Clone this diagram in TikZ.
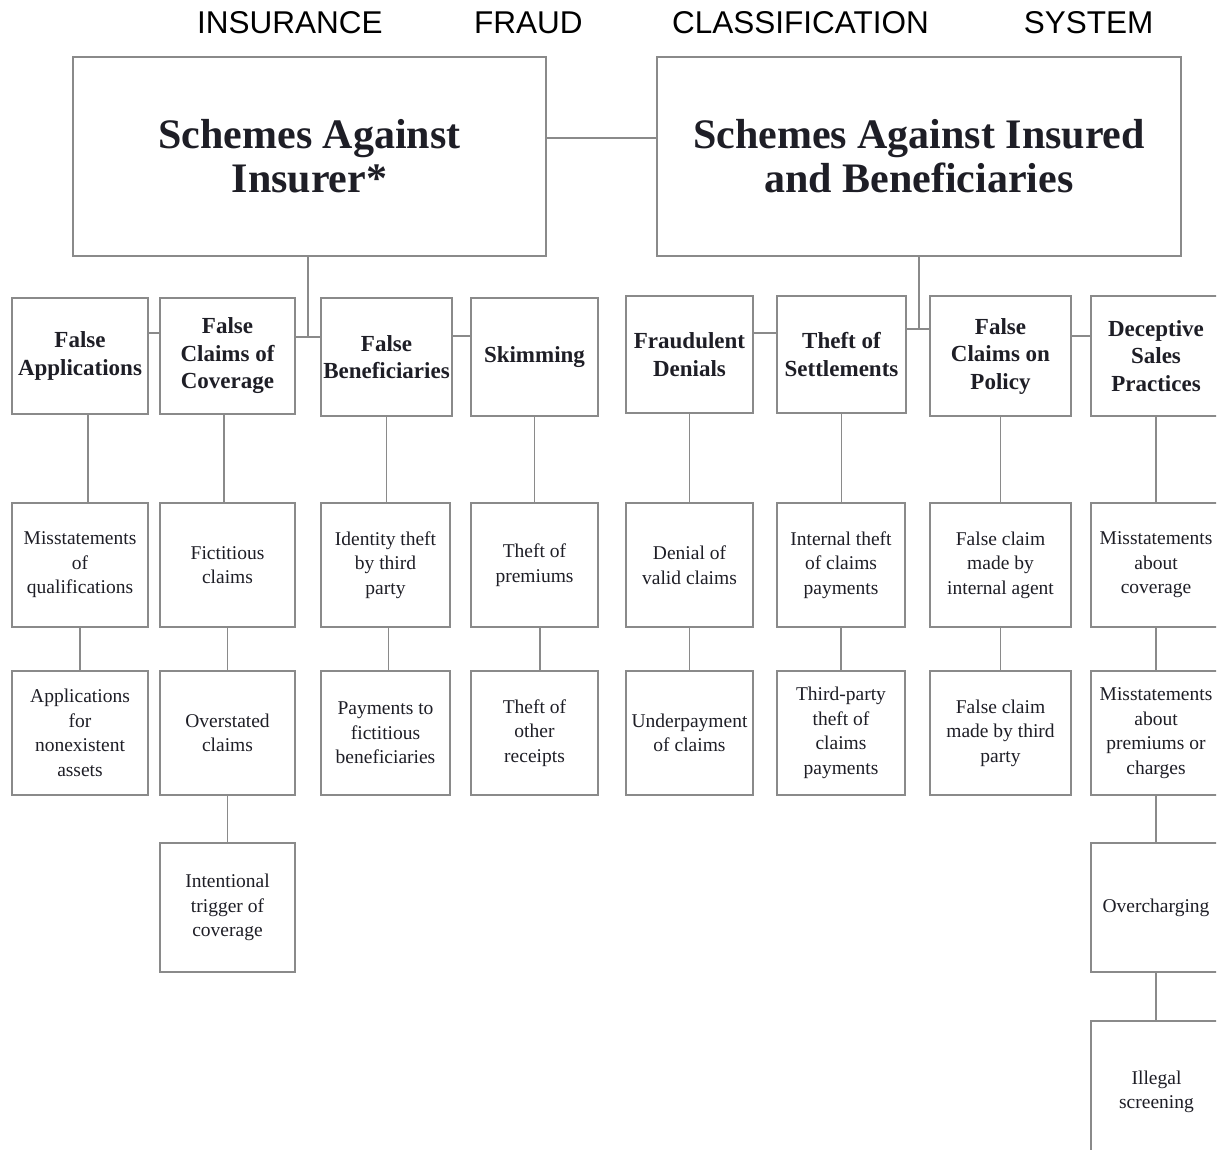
\documentclass[tikz,border=0pt]{standalone}
\usepackage{fontspec}
\setmainfont{Liberation Serif}
\newfontfamily\titlefont{Liberation Sans}
\definecolor{linegray}{HTML}{8A8A8A}
\definecolor{ink}{HTML}{1E1E26}
\tikzset{
  conn/.style={draw=linegray, line width=1.5pt},
  basebox/.style={draw=linegray, line width=1.5pt, fill=white, inner sep=0pt, align=center, text=ink},
  topbox/.style={basebox, font=\bfseries\fontsize{42}{44}\selectfont},
  catbox/.style={basebox, font=\bfseries\fontsize{23}{27.5}\selectfont},
  itembox/.style={basebox, font=\fontsize{19.5}{24.5}\selectfont},
  sz/.style 2 args={minimum width=#1pt, minimum height=#2pt},
  titletext/.style={font=\titlefont\fontsize{31.5}{36}\selectfont, anchor=base west, inner sep=0pt, text=black},
}
\begin{document}
\begin{tikzpicture}[x=1pt, y=-1pt]
\useasboundingbox (0,0) rectangle (1228,1149);
\begin{scope}
\clip (0,0) rectangle (1216,1149);

% title
\node[titletext] (title) at (197,33) {INSURANCE\hspace{91.5pt}FRAUD\hspace{89.5pt}CLASSIFICATION\hspace{95pt}SYSTEM};

% top level
\node[topbox, sz={473}{199}] (ins) at (309.5,156.5) {Schemes Against\\Insurer*};
\node[topbox, sz={524}{199}] (isb) at (919,156.5) {Schemes Against Insured\\and Beneficiaries};

% level 2
\node[catbox, sz={136}{116}] (fa)  at (80,356)     {False\\Applications};
\node[catbox, sz={135}{116}] (fcc) at (227.5,356)  {False\\Claims of\\Coverage};
\node[catbox, sz={131}{118}] (fb)  at (386.5,357)  {False\\Beneficiaries};
\node[catbox, sz={127}{118}] (sk)  at (534.5,357)  {Skimming};
\node[catbox, sz={127}{117}] (fd)  at (689.5,354.5) {Fraudulent\\Denials};
\node[catbox, sz={129}{117}] (ts)  at (841.5,354.5) {Theft of\\Settlements};
\node[catbox, sz={141}{120}] (fcp) at (1000.5,356) {False\\Claims on\\Policy};
\node[catbox, sz={130}{120}] (dsp) at (1156,356)   {Deceptive\\Sales\\Practices};

% level 3
\node[itembox, sz={136}{124}] (ms)  at (80,565)     {Misstatements\\of\\qualifications};
\node[itembox, sz={135}{124}] (fic) at (227.5,565)  {Fictitious\\claims};
\node[itembox, sz={129}{124}] (idt) at (385.5,565)  {Identity theft\\by third\\party};
\node[itembox, sz={127}{124}] (thp) at (534.5,565)  {Theft of\\premiums};
\node[itembox, sz={127}{124}] (dvc) at (689.5,565)  {Denial of\\valid claims};
\node[itembox, sz={128}{124}] (itc) at (841,565)    {Internal theft\\of claims\\payments};
\node[itembox, sz={141}{124}] (fci) at (1000.5,565) {False claim\\made by\\internal agent};
\node[itembox, sz={130}{124}] (mac) at (1156,565)   {Misstatements\\about\\coverage};

% level 4
\node[itembox, sz={136}{124}] (apn) at (80,733)     {Applications\\for\\nonexistent\\assets};
\node[itembox, sz={135}{124}] (ovs) at (227.5,733)  {Overstated\\claims};
\node[itembox, sz={129}{124}] (pfb) at (385.5,733)  {Payments to\\fictitious\\beneficiaries};
\node[itembox, sz={127}{124}] (tor) at (534.5,733)  {Theft of\\other\\receipts};
\node[itembox, sz={127}{124}] (upc) at (689.5,733)  {Underpayment\\of claims};
\node[itembox, sz={128}{124}] (tpt) at (841,733)    {Third-party\\theft of\\claims\\payments};
\node[itembox, sz={141}{124}] (fct) at (1000.5,733) {False claim\\made by third\\party};
\node[itembox, sz={130}{124}] (mpc) at (1156,733)   {Misstatements\\about\\premiums or\\charges};

% level 5 and 6
\node[itembox, sz={135}{129}] (itr) at (227.5,907.5) {Intentional\\trigger of\\coverage};
\node[itembox, sz={130}{129}] (ovc) at (1156,907.5)  {Overcharging};
\node[itembox, sz={131}{142}] (ils) at (1156.5,1092) {Illegal\\screening};

% connectors: top
\draw[conn] ([yshift=18.5pt]ins.east) -- ([yshift=18.5pt]isb.west);
\coordinate (insb) at ([xshift=-1.5pt]ins.south);
\draw[conn] (insb) -- (insb |- 0,337);
\draw[conn] (fcc.east |- 0,337) -- (fb.west |- 0,337);
\draw[conn] (isb.south) -- (isb.south |- 0,329);
\draw[conn] (ts.east |- 0,329) -- (fcp.west |- 0,329);

% connectors: level 2 siblings
\draw[conn] (fa.east |- 0,333) -- (fcc.west |- 0,333);
\draw[conn] (fb.east |- 0,336) -- (sk.west |- 0,336);
\draw[conn] (fd.east |- 0,333) -- (ts.west |- 0,333);
\draw[conn] (fcp.east |- 0,336) -- (dsp.west |- 0,336);

% connectors: level 2 -> 3
\draw[conn] ([xshift=8pt]fa.south) -- ([xshift=8pt]ms.north);
\draw[conn] ([xshift=-3.5pt]fcc.south) -- ([xshift=-3.5pt]fic.north);
\draw[conn] (fb.south) -- (fb.south |- idt.north);
\draw[conn] (sk.south) -- (sk.south |- thp.north);
\draw[conn] (fd.south) -- (dvc.north);
\draw[conn] (ts.south) -- (ts.south |- itc.north);
\draw[conn] (fcp.south) -- (fci.north);
\draw[conn] (dsp.south) -- (mac.north);

% connectors: level 3 -> 4
\draw[conn] (ms.south) -- (apn.north);
\draw[conn] (fic.south) -- (ovs.north);
\draw[conn] ([xshift=3pt]idt.south) -- ([xshift=3pt]pfb.north);
\draw[conn] ([xshift=5.5pt]thp.south) -- ([xshift=5.5pt]tor.north);
\draw[conn] (dvc.south) -- (upc.north);
\draw[conn] (itc.south) -- (tpt.north);
\draw[conn] (fci.south) -- (fct.north);
\draw[conn] (mac.south) -- (mpc.north);

% connectors: deeper
\draw[conn] (ovs.south) -- (itr.north);
\draw[conn] (mpc.south) -- (ovc.north);
\draw[conn] (ovc.south) -- (ovc.south |- ils.north);
\end{scope}
\end{tikzpicture}
\end{document}
